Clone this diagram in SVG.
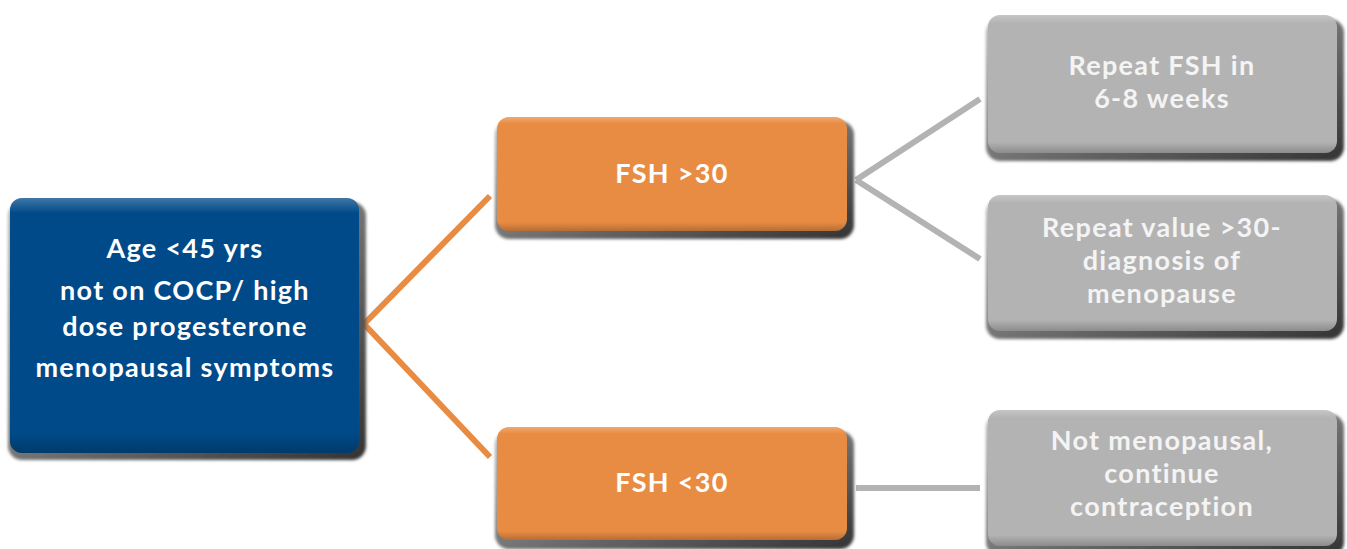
<svg xmlns="http://www.w3.org/2000/svg" width="1347" height="549" viewBox="0 0 1347 549">
<defs>
<filter id="sh" x="-10%" y="-10%" width="130%" height="130%"><feGaussianBlur stdDeviation="1.6"/></filter>
<linearGradient id="bev" x1="0" y1="0" x2="0" y2="1">
<stop offset="0" stop-color="#fff" stop-opacity="0.25"/>
<stop offset="0.06" stop-color="#fff" stop-opacity="0"/>
<stop offset="0.92" stop-color="#000" stop-opacity="0"/>
<stop offset="1" stop-color="#000" stop-opacity="0.22"/>
</linearGradient>
<linearGradient id="shg" x1="0" y1="0" x2="1" y2="1">
<stop offset="0" stop-color="#bbb"/>
<stop offset="0.6" stop-color="#666"/>
<stop offset="1" stop-color="#333"/>
</linearGradient>
</defs>
<style>
.shadow{fill:url(#shg);filter:url(#sh)}
.bev{fill:url(#bev)}
.blue{fill:#004A89}
.orange{fill:#E98C43}
.gray{fill:#B3B3B3}
text{font-family:Lato,"Open Sans","Liberation Sans",sans-serif;font-weight:700;font-size:27px;letter-spacing:1.3px;fill:#fff;text-anchor:middle}
.gt{fill:#F4F4F4}
.oc{stroke:#E98C43;stroke-width:6;fill:none}
.gc{stroke:#B3B3B3;stroke-width:6;fill:none}
</style>
<rect width="1347" height="549" fill="#fff"/>
<g id="connectors">
<line class="oc" x1="364" y1="324" x2="490" y2="196"/>
<line class="oc" x1="364" y1="324" x2="490" y2="457"/>
<line class="gc" x1="856" y1="180" x2="980" y2="99"/>
<line class="gc" x1="856" y1="180" x2="980" y2="259"/>
<line class="gc" x1="856" y1="488" x2="980" y2="488"/>
</g>
<g id="n-age">
<rect class="shadow" x="8" y="202" width="358" height="258" rx="14"/>
<rect class="blue" x="10" y="198" width="349" height="255" rx="12"/>
<rect class="bev" x="10" y="198" width="349" height="255" rx="12"/>
<text x="185" y="258">Age &lt;45 yrs</text>
<text x="185" y="300">not on COCP/ high</text>
<text x="185" y="336">dose progesterone</text>
<text x="185" y="377">menopausal symptoms</text>
</g>
<g id="n-fsh-high">
<rect class="shadow" x="495" y="121" width="359" height="118" rx="14"/>
<rect class="orange" x="497" y="117" width="350" height="114" rx="12"/>
<rect class="bev" x="497" y="117" width="350" height="114" rx="12"/>
<text x="672" y="183">FSH &gt;30</text>
</g>
<g id="n-fsh-low">
<rect class="shadow" x="495" y="431" width="359" height="118" rx="14"/>
<rect class="orange" x="497" y="427" width="350" height="113" rx="12"/>
<rect class="bev" x="497" y="427" width="350" height="113" rx="12"/>
<text x="672" y="492">FSH &lt;30</text>
</g>
<g id="n-repeat-fsh">
<rect class="shadow" x="986" y="19" width="358" height="142" rx="14"/>
<rect class="gray" x="988" y="15" width="349" height="138" rx="12"/>
<rect class="bev" x="988" y="15" width="349" height="138" rx="12"/>
<text class="gt" x="1162" y="75">Repeat FSH in</text>
<text class="gt" x="1162" y="108">6-8 weeks</text>
</g>
<g id="n-repeat-value">
<rect class="shadow" x="986" y="199" width="358" height="140" rx="14"/>
<rect class="gray" x="988" y="195" width="349" height="136" rx="12"/>
<rect class="bev" x="988" y="195" width="349" height="136" rx="12"/>
<text class="gt" x="1162" y="237">Repeat value &gt;30-</text>
<text class="gt" x="1162" y="270">diagnosis of</text>
<text class="gt" x="1162" y="303">menopause</text>
</g>
<g id="n-not-menopausal">
<rect class="shadow" x="986" y="414" width="358" height="142" rx="14"/>
<rect class="gray" x="988" y="410" width="349" height="136" rx="12"/>
<rect class="bev" x="988" y="410" width="349" height="136" rx="12"/>
<text class="gt" x="1162" y="450">Not menopausal,</text>
<text class="gt" x="1162" y="483">continue</text>
<text class="gt" x="1162" y="516">contraception</text>
</g>
</svg>
